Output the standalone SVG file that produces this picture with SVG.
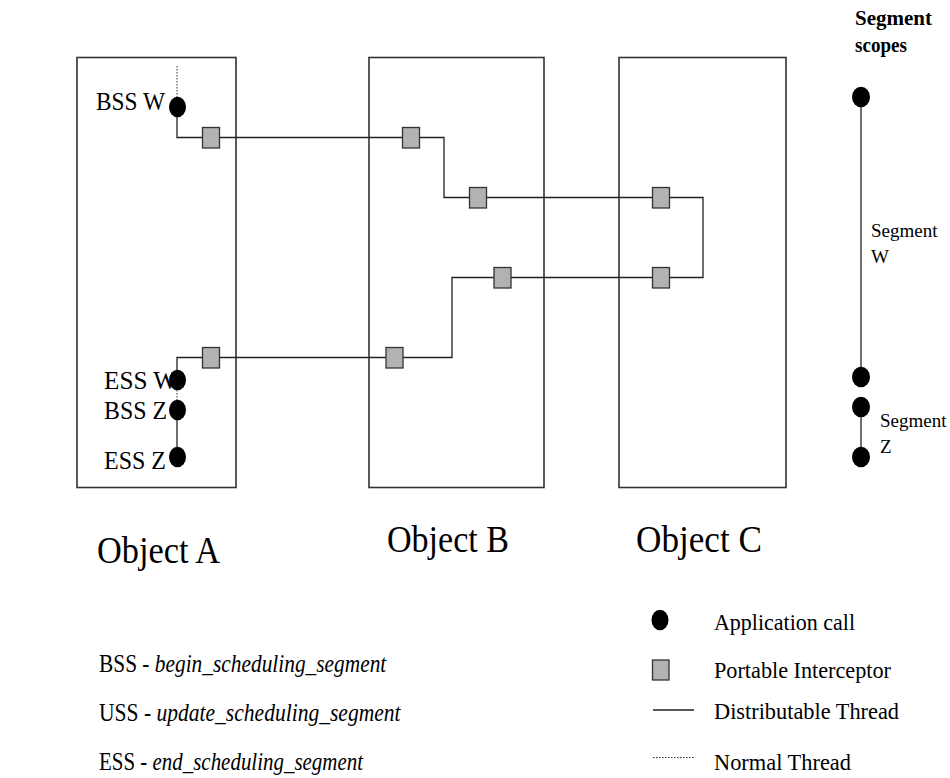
<svg xmlns="http://www.w3.org/2000/svg" width="950" height="778" viewBox="0 0 950 778">
  <style>
    .obj { fill: #fff; stroke: #333; stroke-width: 1.6; }
    .thread { fill: none; stroke: #222; stroke-width: 1.3; }
    .normal { fill: none; stroke: #333; stroke-width: 1; stroke-dasharray: 1.5 1.5; }
    .pi { fill: #b2b2b2; stroke: #333; stroke-width: 1.3; }
    .call { fill: #000; }
    text { font-family: "Liberation Serif", "Times New Roman", serif; fill: #000; }
    .lbl { font-size: 25px; }
    .objname { font-size: 38px; }
    .seg { font-size: 19px; }
    .legend { font-size: 24px; }
    .abbr { font-size: 25px; }
    .it { font-style: italic; }
    .head { font-size: 20px; font-weight: bold; }
  </style>

  <!-- Objects -->
  <g id="object-a">
    <rect class="obj" x="77" y="57.5" width="159" height="430"/>
    <text class="objname" x="97" y="563" textLength="123" lengthAdjust="spacingAndGlyphs">Object A</text>
  </g>
  <g id="object-b">
    <rect class="obj" x="369" y="57.5" width="175" height="430"/>
    <text class="objname" x="387" y="552" textLength="122" lengthAdjust="spacingAndGlyphs">Object B</text>
  </g>
  <g id="object-c">
    <rect class="obj" x="619" y="57.5" width="167" height="430"/>
    <text class="objname" x="636" y="552" textLength="126" lengthAdjust="spacingAndGlyphs">Object C</text>
  </g>

  <!-- Threads -->
  <g id="connectors">
    <line class="normal" x1="177" y1="66" x2="177" y2="97"/>
    <polyline class="thread" points="177,117 177,137.5 444,137.5 444,197.5 703,197.5 703,277.5 452,277.5 452,357.5 177,357.5 177,370"/>
    <line class="normal" x1="177" y1="390" x2="177" y2="400"/>
    <line class="thread" x1="177" y1="410" x2="177" y2="457"/>
    <line class="thread" x1="861" y1="97" x2="861" y2="377"/>
    <line class="thread" x1="861" y1="407" x2="861" y2="457"/>
  </g>

  <!-- Application calls in Object A -->
  <g id="bss-w">
    <ellipse class="call" cx="177.5" cy="107" rx="8.5" ry="10.3"/>
    <text class="lbl" x="96" y="110" textLength="69" lengthAdjust="spacingAndGlyphs">BSS W</text>
  </g>
  <g id="ess-w">
    <ellipse class="call" cx="177.5" cy="380" rx="8.5" ry="10.3"/>
    <text class="lbl" x="104" y="389" textLength="73" lengthAdjust="spacingAndGlyphs">ESS W</text>
  </g>
  <g id="bss-z">
    <ellipse class="call" cx="177.5" cy="410" rx="8.5" ry="10.3"/>
    <text class="lbl" x="104" y="419" textLength="63" lengthAdjust="spacingAndGlyphs">BSS Z</text>
  </g>
  <g id="ess-z">
    <ellipse class="call" cx="177.5" cy="457" rx="8.5" ry="10.3"/>
    <text class="lbl" x="104" y="469" textLength="62" lengthAdjust="spacingAndGlyphs">ESS Z</text>
  </g>

  <!-- Portable interceptors -->
  <g id="pi-a1"><rect class="pi" x="202.5" y="127.5" width="17" height="20.5"/></g>
  <g id="pi-b1"><rect class="pi" x="402.5" y="127.5" width="17" height="20.5"/></g>
  <g id="pi-b2"><rect class="pi" x="469.5" y="187.5" width="17" height="20.5"/></g>
  <g id="pi-c1"><rect class="pi" x="652.5" y="187.5" width="17" height="20.5"/></g>
  <g id="pi-c2"><rect class="pi" x="652.5" y="267.5" width="17" height="20.5"/></g>
  <g id="pi-b3"><rect class="pi" x="494" y="267.5" width="17" height="20.5"/></g>
  <g id="pi-b4"><rect class="pi" x="386" y="347.5" width="17" height="20.5"/></g>
  <g id="pi-a2"><rect class="pi" x="202.5" y="347.5" width="17" height="20.5"/></g>

  <!-- Segment scopes -->
  <g id="segment-scopes">
    <text class="head" x="855" y="25" textLength="77" lengthAdjust="spacingAndGlyphs">Segment</text>
    <text class="head" x="855" y="52" textLength="52" lengthAdjust="spacingAndGlyphs">scopes</text>
    <ellipse class="call" cx="861" cy="97" rx="9" ry="10.3"/>
    <ellipse class="call" cx="861" cy="377" rx="9" ry="10.3"/>
    <ellipse class="call" cx="861" cy="407" rx="9" ry="10.3"/>
    <ellipse class="call" cx="861" cy="457" rx="9" ry="10.3"/>
    <text class="seg" x="871" y="237">Segment</text>
    <text class="seg" x="871" y="263">W</text>
    <text class="seg" x="880" y="427">Segment</text>
    <text class="seg" x="880" y="453">Z</text>
  </g>

  <!-- Abbreviations (condensed horizontally) -->
  <g id="abbreviations">
    <text class="abbr" transform="translate(99 672) scale(0.855 1)">BSS - <tspan class="it">begin_scheduling_segment</tspan></text>
    <text class="abbr" transform="translate(99 721) scale(0.862 1)">USS - <tspan class="it">update_scheduling_segment</tspan></text>
    <text class="abbr" transform="translate(99 770) scale(0.838 1)">ESS - <tspan class="it">end_scheduling_segment</tspan></text>
  </g>

  <!-- Legend -->
  <g id="legend">
    <ellipse class="call" cx="660" cy="620" rx="8.5" ry="10.3"/>
    <text class="legend" x="714" y="630" textLength="141" lengthAdjust="spacingAndGlyphs">Application call</text>
    <rect class="pi" x="652.5" y="660" width="16.5" height="20"/>
    <text class="legend" x="714" y="678" textLength="177" lengthAdjust="spacingAndGlyphs">Portable Interceptor</text>
    <line class="thread" x1="653" y1="710" x2="694" y2="710"/>
    <text class="legend" x="714" y="719" textLength="185" lengthAdjust="spacingAndGlyphs">Distributable Thread</text>
    <line class="normal" x1="653" y1="757.5" x2="694" y2="757.5"/>
    <text class="legend" x="714" y="770" textLength="137" lengthAdjust="spacingAndGlyphs">Normal Thread</text>
  </g>
</svg>
